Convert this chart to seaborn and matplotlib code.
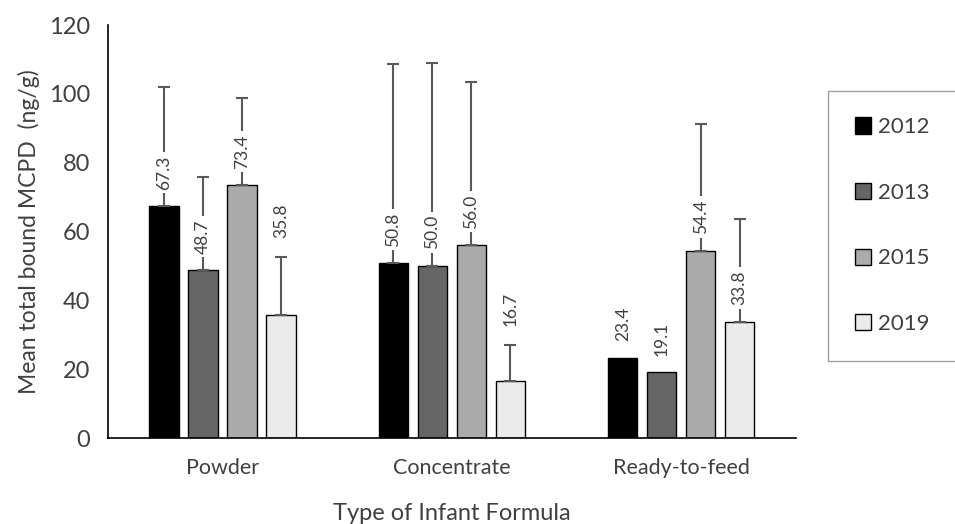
import numpy as np
import pandas as pd
import matplotlib
matplotlib.use('Agg')
import matplotlib.pyplot as plt
import seaborn as sns

# data
categories = ['Powder', 'Concentrate', 'Ready-to-feed']
years = ['2012', '2013', '2015', '2019']
means = {
    '2012': [67.3, 50.8, 23.4],
    '2013': [48.7, 50.0, 19.1],
    '2015': [73.4, 56.0, 54.4],
    '2019': [35.8, 16.7, 33.8],
}
errors = {
    '2012': [34.7, 58.0, 0.0],
    '2013': [27.3, 59.0, 0.0],
    '2015': [25.4, 47.5, 37.0],
    '2019': [16.8, 10.3, 30.0],
}
colors = ['#000000', '#666666', '#ababab', '#ebebeb']

rows = []
for yr in years:
    for cat, m in zip(categories, means[yr]):
        rows.append({'type': cat, 'year': yr, 'mean': m})
df = pd.DataFrame(rows)

sns.set_style('white')
plt.rcParams['font.family'] = ['Lato', 'DejaVu Sans']
text_col = '#404040'

fig = plt.figure(figsize=(9.55, 5.24), dpi=100)
ax = fig.add_axes([0.113, 0.164, 0.7205, 0.788])

sns.barplot(data=df, x='type', y='mean', hue='year', order=categories,
            hue_order=years, palette=colors, width=0.68, gap=0.25,
            edgecolor='black', linewidth=1.0, errorbar=None, ax=ax)

# upper error bars and rotated value labels
for yr, cont in zip(years, ax.containers):
    xs = np.array([p.get_x() + p.get_width() / 2 for p in cont.patches])
    hs = np.array([p.get_height() for p in cont.patches])
    err = np.array(errors[yr])
    keep = err > 0
    ax.errorbar(xs[keep], hs[keep], yerr=[np.zeros(keep.sum()), err[keep]],
                fmt='none', ecolor='#595959', elinewidth=1.5, capsize=4.5,
                capthick=1.5, zorder=2)
    for x, h, e in zip(xs, hs, err):
        # short error bars: label sits above the cap
        if 0 < e < 20:
            base, off = h + e, 14
        else:
            base, off = h, 12
        ax.annotate(f'{h:.1f}', (x, base), xytext=(0, off), textcoords='offset points',
                    rotation=90, ha='center', va='bottom', fontsize=12.5,
                    color=text_col, zorder=4,
                    bbox=dict(boxstyle='square,pad=0.2', fc='white', ec='none'))

ax.set_ylim(0, 120)
ax.set_xlim(-0.5, 2.5)
ax.set_yticks(range(0, 121, 20))
ax.set_xticks([-0.5, 0.5, 1.5, 2.5], minor=True)
ax.tick_params(axis='x', which='major', length=0, pad=14, labelsize=15.5, labelcolor=text_col)
ax.tick_params(axis='x', which='minor', length=7, width=1.2, direction='out', color='black')
ax.tick_params(axis='y', length=7, width=1.2, direction='out', color='black',
               labelsize=17, labelcolor=text_col, pad=6)

for s in ['top', 'right']:
    ax.spines[s].set_visible(False)
for s in ['left', 'bottom']:
    ax.spines[s].set_color('black')
    ax.spines[s].set_linewidth(1.2)

ax.set_xlabel('Type of Infant Formula', fontsize=17, color=text_col, labelpad=18)
ax.set_ylabel('Mean total bound MCPD  (ng/g)', fontsize=16.5, color=text_col, labelpad=6)

ax.get_legend().remove()
handles = [plt.Rectangle((0, 0), 1, 1, fc=c, ec='black', lw=1) for c in colors]
leg = fig.legend(handles, years, loc='upper left', bbox_to_anchor=(0.867, 0.827),
                 frameon=True, fancybox=False, fontsize=16, labelspacing=2.05,
                 handlelength=0.75, handleheight=0.75, handletextpad=0.3,
                 borderpad=1.2, borderaxespad=0, labelcolor=text_col)
leg.get_frame().set_edgecolor('#888888')
leg.get_frame().set_linewidth(1.0)

fig.savefig('out.png', dpi=100)
